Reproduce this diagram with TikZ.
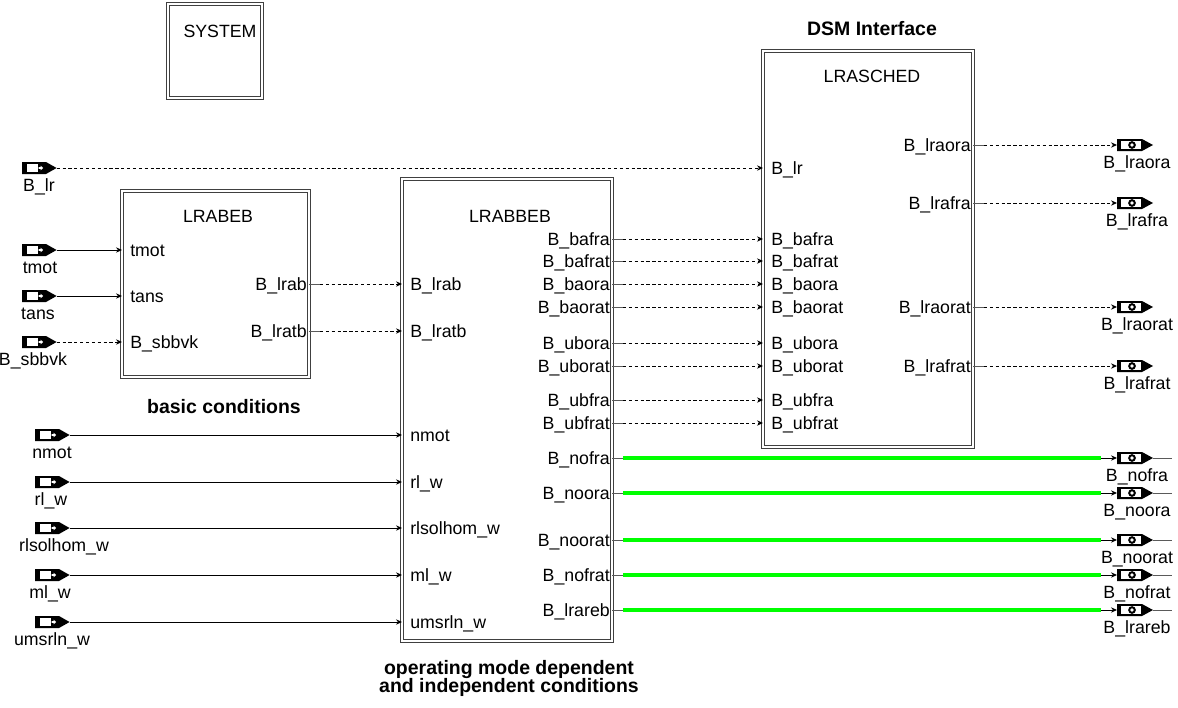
\documentclass[tikz,border=0pt]{standalone}
\usepackage{fontspec}
\setmainfont{Liberation Sans}
\usetikzlibrary{arrows.meta,fit}
\definecolor{siggreen}{RGB}{0,255,0}
\definecolor{stubgray}{RGB}{90,90,90}
\tikzset{
  blk/.style={draw=black!75, line width=0.8pt, double=white, double distance=1.1pt, inner sep=0pt, outer sep=0pt, fill=white},
  txt/.style={font=\fontsize{13.3}{15}\selectfont, inner sep=0pt},
  capt/.style={font=\fontsize{14.6}{16}\selectfont\bfseries, inner sep=0pt},
  sig/.style={line width=0.75pt, -{Stealth[length=4.5pt,width=4pt]}},
  dsig/.style={sig, dash pattern=on 2.4pt off 2pt},
  stub/.style={line width=0.75pt, draw=stubgray},
  grn/.style={line width=2.4pt, draw=siggreen},
  inportbox/.style={minimum width=26pt, minimum height=9pt, inner sep=0pt, outer sep=0pt},
  outportbox/.style={minimum width=27pt, minimum height=9pt, inner sep=0pt, outer sep=0pt}
}
\newcommand{\ipin}[4]{\coordinate (#1) at (#2,#3);
  \node[txt, anchor=base west] (#1-t) at (#2+8,#3+6) {#4};}
\newcommand{\opin}[4]{\coordinate (#1) at (#2,#3);
  \node[txt, anchor=base east] (#1-t) at (#2-2,#3+6) {#4};}
\newcommand{\inport}[5]{\node[inportbox, anchor=west] (#1) at (#2,#3) {};
  \begin{scope}[shift={(#1.west)}]
    \fill (0,-6) -- (24,-6) -- (34.6,0) -- (24,6) -- (0,6) -- cycle;
    \fill[white] (5,-4) rectangle (22.5,4);
    \fill (15.5,-4) rectangle (22.5,4);
    \fill[white] (16.6,-0.9) -- (18.6,-0.9) -- (18.6,-2.3) -- (21.2,0) -- (18.6,2.3) -- (18.6,0.9) -- (16.6,0.9) -- cycle;
  \end{scope}
  \node[txt, anchor=base] (#1-t) at (#4,#3+23) {#5};}
\newcommand{\outport}[3]{\node[outportbox, anchor=west] (#1) at (1117,#2) {};
  \begin{scope}[shift={(#1.west)}]
    \fill (0,-6) -- (25,-6) -- (36,0) -- (25,6) -- (0,6) -- cycle;
    \fill[white] (3.5,-4) rectangle (24,4);
    \fill (15,0) circle[radius=2.9pt];
    \fill[white] (15,0) circle[radius=1.4pt];
  \end{scope}
  \node[txt, anchor=base] (#1-t) at (1137,#2+23) {#3};}
\newcommand{\dconn}[2]{\draw[stub] (#1) -- ++(11,0);
  \draw[dsig] ([xshift=8.25pt]#1) -- (#2);}
\newcommand{\gconn}[2]{\draw[stub] (#1) -- ++(11,0);
  \draw[grn] ([xshift=8.25pt]#1) -- ([xshift=-12pt]#2.west);
  \draw[sig] ([xshift=-12pt]#2.west) -- (#2.west);
  \draw[stub] (#2.east) -- ++(19,0);}
\begin{document}
\begin{tikzpicture}[x=0.75pt, y=-0.75pt]
\useasboundingbox (0,0) rectangle (1178,707);

% blocks
\node[blk, fit={(168,4) (262,98)}] (sys) {};
\node[txt, anchor=base] (sys-t) at (220,37) {SYSTEM};
\node[blk, fit={(122,191) (309,377)}] (abeb) {};
\node[txt, anchor=base] (abeb-t) at (218,222) {LRABEB};
\node[blk, fit={(402,179) (612,641)}] (abbeb) {};
\node[txt, anchor=base] (abbeb-t) at (510,222) {LRABBEB};
\node[blk, fit={(763,51) (973,447)}] (sched) {};
\node[txt, anchor=base] (sched-t) at (872,82) {LRASCHED};

% captions
\node[capt, anchor=base] (cap1) at (872,35) {DSM Interface};
\node[capt, anchor=base] (cap2) at (224,413) {basic conditions};
\node[capt, anchor=base] (cap3) at (509,674) {operating mode dependent};
\node[capt, anchor=base] (cap4) at (509,692) {and independent conditions};

% LRABEB pins
\ipin{abeb-tmot}{122}{250}{tmot}
\ipin{abeb-tans}{122}{296}{tans}
\ipin{abeb-sbbvk}{122}{342}{B\_sbbvk}
\opin{abeb-lrab}{309}{284}{B\_lrab}
\opin{abeb-lratb}{309}{331}{B\_lratb}

% LRABBEB pins
\ipin{bb-lrab}{402}{284}{B\_lrab}
\ipin{bb-lratb}{402}{331}{B\_lratb}
\ipin{bb-nmot}{402}{435}{nmot}
\ipin{bb-rlw}{402}{482}{rl\_w}
\ipin{bb-rlsol}{402}{528}{rlsolhom\_w}
\ipin{bb-mlw}{402}{575}{ml\_w}
\ipin{bb-ums}{402}{622}{umsrln\_w}
\opin{bb-bafra}{612}{239}{B\_bafra}
\opin{bb-bafrat}{612}{261}{B\_bafrat}
\opin{bb-baora}{612}{284}{B\_baora}
\opin{bb-baorat}{612}{307}{B\_baorat}
\opin{bb-ubora}{612}{343}{B\_ubora}
\opin{bb-uborat}{612}{366}{B\_uborat}
\opin{bb-ubfra}{612}{400}{B\_ubfra}
\opin{bb-ubfrat}{612}{423}{B\_ubfrat}
\opin{bb-nofra}{612}{458}{B\_nofra}
\opin{bb-noora}{612}{493}{B\_noora}
\opin{bb-noorat}{612}{540}{B\_noorat}
\opin{bb-nofrat}{612}{575}{B\_nofrat}
\opin{bb-lrareb}{612}{610}{B\_lrareb}

% LRASCHED pins
\ipin{sc-lr}{763}{168}{B\_lr}
\ipin{sc-bafra}{763}{239}{B\_bafra}
\ipin{sc-bafrat}{763}{261}{B\_bafrat}
\ipin{sc-baora}{763}{284}{B\_baora}
\ipin{sc-baorat}{763}{307}{B\_baorat}
\ipin{sc-ubora}{763}{343}{B\_ubora}
\ipin{sc-uborat}{763}{366}{B\_uborat}
\ipin{sc-ubfra}{763}{400}{B\_ubfra}
\ipin{sc-ubfrat}{763}{423}{B\_ubfrat}
\opin{sc-lraora}{973}{145}{B\_lraora}
\opin{sc-lrafra}{973}{203}{B\_lrafra}
\opin{sc-lraorat}{973}{307}{B\_lraorat}
\opin{sc-lrafrat}{973}{366}{B\_lrafrat}

% input ports
\inport{p-lr}{22}{168}{39}{B\_lr}
\inport{p-tmot}{22}{250}{40}{tmot}
\inport{p-tans}{22}{296}{38}{tans}
\inport{p-sbbvk}{22}{342}{33}{B\_sbbvk}
\inport{p-nmot}{35}{435}{52}{nmot}
\inport{p-rlw}{35}{482}{51}{rl\_w}
\inport{p-rlsol}{35}{528}{64}{rlsolhom\_w}
\inport{p-mlw}{35}{575}{50}{ml\_w}
\inport{p-ums}{35}{622}{52}{umsrln\_w}

% output ports
\outport{q-lraora}{145}{B\_lraora}
\outport{q-lrafra}{203}{B\_lrafra}
\outport{q-lraorat}{307}{B\_lraorat}
\outport{q-lrafrat}{366}{B\_lrafrat}
\outport{q-nofra}{458}{B\_nofra}
\outport{q-noora}{493}{B\_noora}
\outport{q-noorat}{540}{B\_noorat}
\outport{q-nofrat}{575}{B\_nofrat}
\outport{q-lrareb}{610}{B\_lrareb}

% connectors from input ports
\draw[dsig] (p-lr.east) -- (sc-lr);
\draw[sig] (p-tmot.east) -- (abeb-tmot);
\draw[sig] (p-tans.east) -- (abeb-tans);
\draw[dsig] (p-sbbvk.east) -- (abeb-sbbvk);
\draw[sig] (p-nmot.east) -- (bb-nmot);
\draw[sig] (p-rlw.east) -- (bb-rlw);
\draw[sig] (p-rlsol.east) -- (bb-rlsol);
\draw[sig] (p-mlw.east) -- (bb-mlw);
\draw[sig] (p-ums.east) -- (bb-ums);

% LRABEB -> LRABBEB
\dconn{abeb-lrab}{bb-lrab}
\dconn{abeb-lratb}{bb-lratb}

% LRABBEB -> LRASCHED
\dconn{bb-bafra}{sc-bafra}
\dconn{bb-bafrat}{sc-bafrat}
\dconn{bb-baora}{sc-baora}
\dconn{bb-baorat}{sc-baorat}
\dconn{bb-ubora}{sc-ubora}
\dconn{bb-uborat}{sc-uborat}
\dconn{bb-ubfra}{sc-ubfra}
\dconn{bb-ubfrat}{sc-ubfrat}

% LRASCHED -> outputs
\dconn{sc-lraora}{q-lraora.west}
\dconn{sc-lrafra}{q-lrafra.west}
\dconn{sc-lraorat}{q-lraorat.west}
\dconn{sc-lrafrat}{q-lrafrat.west}

% LRABBEB -> outputs (green)
\gconn{bb-nofra}{q-nofra}
\gconn{bb-noora}{q-noora}
\gconn{bb-noorat}{q-noorat}
\gconn{bb-nofrat}{q-nofrat}
\gconn{bb-lrareb}{q-lrareb}
\end{tikzpicture}
\end{document}
